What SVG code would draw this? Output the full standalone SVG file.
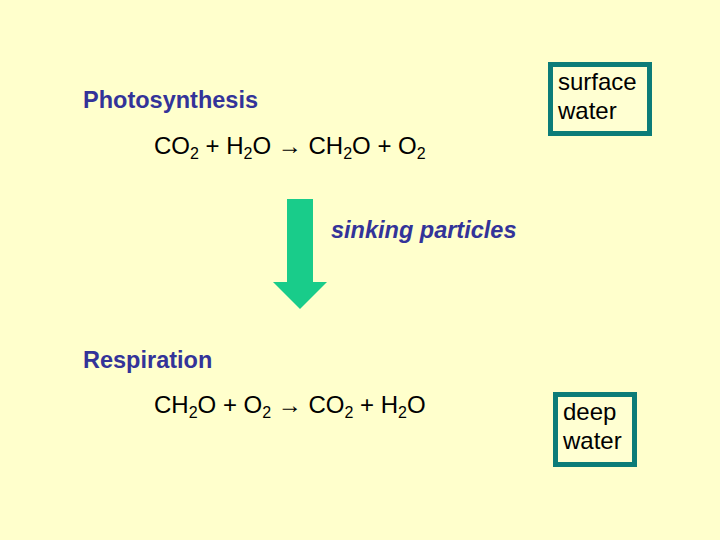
<svg xmlns="http://www.w3.org/2000/svg" width="720" height="540" viewBox="0 0 720 540">
<style>
.t{font-family:"Liberation Sans",Arial,sans-serif;font-size:24px;fill:#000}
.h{font-family:"Liberation Sans",Arial,sans-serif;font-size:23.5px;font-weight:bold;fill:#333399}
.s{font-size:16px}
.box{fill:#ffffd2;stroke:#0c7c78;stroke-width:5}
</style>
<rect x="0" y="0" width="720" height="540" fill="#ffffcc"/>
<g id="photosynthesis">
<text class="h" x="83" y="108">Photosynthesis</text>
<text class="t" x="154" y="154">CO<tspan class="s" dy="5">2</tspan><tspan dy="-5"> + H</tspan><tspan class="s" dy="5">2</tspan><tspan dy="-5">O → CH</tspan><tspan class="s" dy="5">2</tspan><tspan dy="-5">O + O</tspan><tspan class="s" dy="5">2</tspan></text>
</g>
<g id="surface-water">
<rect class="box" x="550.5" y="64.5" width="99" height="69"/>
<text class="t" x="558" y="90">surface</text>
<text class="t" x="558" y="119">water</text>
</g>
<g id="respiration">
<text class="h" x="83" y="368">Respiration</text>
<text class="t" x="154" y="413">CH<tspan class="s" dy="5">2</tspan><tspan dy="-5">O + O</tspan><tspan class="s" dy="5">2</tspan><tspan dy="-5"> → CO</tspan><tspan class="s" dy="5">2</tspan><tspan dy="-5"> + H</tspan><tspan class="s" dy="5">2</tspan><tspan dy="-5">O</tspan></text>
</g>
<g id="deep-water">
<rect class="box" x="555.5" y="394.5" width="79" height="70"/>
<text class="t" x="563" y="420">deep</text>
<text class="t" x="563" y="449">water</text>
</g>
<g id="connectors">
<polygon points="287,199 313,199 313,282 327,282 300,309 273,282 287,282" fill="#19cc8a"/>
<text class="h" x="331" y="238" font-style="italic">sinking particles</text>
</g>
</svg>
